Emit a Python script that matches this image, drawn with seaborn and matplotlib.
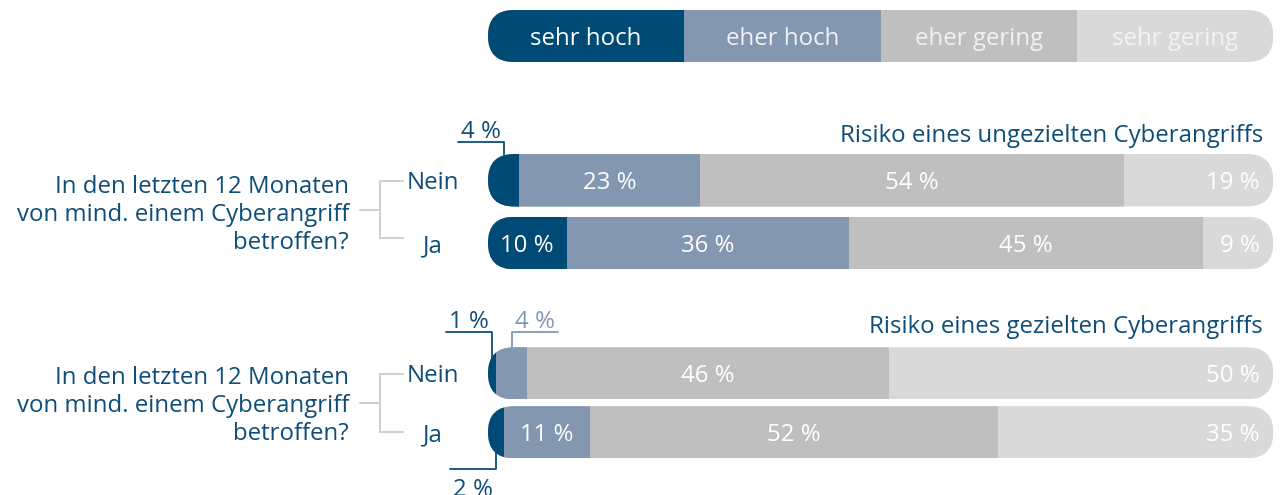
import pandas as pd
import matplotlib
matplotlib.use("Agg")
import matplotlib.pyplot as plt
import matplotlib.transforms as mtrans
from matplotlib.patches import FancyBboxPatch
from matplotlib.lines import Line2D
import seaborn as sns

# data
levels = ["sehr hoch", "eher hoch", "eher gering", "sehr gering"]
colors = ["#004B76", "#8497B0", "#BFBFBF", "#D9D9D9"]
answers = ["Nein", "Ja"]
ungezielt_nein = [4, 23, 54, 19]
ungezielt_ja = [10, 36, 45, 9]
gezielt_nein = [1, 4, 46, 50]
gezielt_ja = [2, 11, 52, 35]
legend_vals = [25, 25, 25, 25]
title_top = "Risiko eines ungezielten Cyberangriffs"
title_bottom = "Risiko eines gezielten Cyberangriffs"
question = "In den letzten 12 Monaten\nvon mind. einem Cyberangriff\nbetroffen?"

TXT = "#0E4D78"
GREY_LINE = "#D0D0D0"
W, H = 1280, 495
FS = 17.3
VA = "center_baseline"

sns.set_theme(style="white")
plt.rcParams['font.family'] = ['Open Sans', 'DejaVu Sans']

fig = plt.figure(figsize=(12.8, 4.95), dpi=100)


def fx(x):
    return x / W


def fy(y):
    return 1 - y / H


def make_axes(top, bottom):
    return fig.add_axes([fx(488), fy(bottom), (1273.3 - 488) / W, (bottom - top) / H])


def stacked(ax, cats, rows, w):
    df = pd.DataFrame(rows, index=cats, columns=levels)
    cum = df.cumsum(axis=1)
    for k in range(3, -1, -1):
        sns.barplot(x=cum[levels[k]].values, y=cats, color=colors[k], width=w,
                    saturation=1, ax=ax, orient="h", linewidth=0)
    ax.set_xlim(0, 100)
    ax.set_ylim(len(cats) - 1 + w / 2, -w / 2)
    ax.axis("off")
    # pill shaped clipping for each row
    dpi = fig.dpi
    pills = []
    for i in range(len(cats)):
        x0, y0 = ax.transData.transform((0, i + w / 2))
        x1, y1 = ax.transData.transform((100, i - w / 2))
        h = (y1 - y0) / dpi
        p = FancyBboxPatch((x0 / dpi, y0 / dpi), (x1 - x0) / dpi, h,
                           boxstyle=f"round,pad=0,rounding_size={h / 2}",
                           transform=fig.dpi_scale_trans)
        pills.append(p)
    for bar in ax.patches:
        i = int(round(bar.get_y() + bar.get_height() / 2))
        bar.set_clip_path(pills[i])
    return df, cum


def bar_labels(ax, df, cum, skip):
    for i, cat in enumerate(df.index):
        for k, lev in enumerate(levels):
            v = df.loc[cat, lev]
            if (i, k) in skip:
                continue
            if k == 3:
                ax.text(98.3, i, f"{v} %", ha="right", va=VA, color="white", fontsize=FS)
            else:
                ax.text(cum.loc[cat, lev] - v / 2, i, f"{v} %", ha="center", va=VA,
                        color="white", fontsize=FS)


def callout(ax, df, cum, i, k, side, line_y, end_y, color, below=False):
    cat, lev = df.index[i], levels[k]
    v = df.loc[cat, lev]
    xmid = ax.transData.transform((cum.loc[cat, lev] - v / 2, 0))[0]
    x2 = xmid - 46 if side == "left" else xmid + 46
    fig.add_artist(Line2D([fx(x2), fx(xmid), fx(xmid)], [fy(line_y), fy(line_y), fy(end_y)],
                          color=color, lw=1.3))
    if below:
        fig.text(fx((x2 + xmid) / 2), fy(line_y + 27), f"{v} %", ha="center", va="baseline",
                 color=color, fontsize=FS)
    else:
        fig.text(fx((x2 + xmid) / 2), fy(line_y - 4), f"{v} %", ha="center", va="baseline",
                 color=color, fontsize=FS)


def side_labels(ax, yc, br_top, br_bot):
    fig.text(fx(349), fy(yc), question, ha="right", va="center", ma="right",
             color=TXT, fontsize=FS, linespacing=1.24)
    blend = mtrans.blended_transform_factory(fig.transFigure, ax.transData)
    for i, a in enumerate(answers):
        ax.text(fx(433), i, a, ha="center", va=VA, color=TXT, fontsize=FS,
                transform=blend)
    fig.add_artist(Line2D([fx(403), fx(380), fx(380), fx(403)],
                          [fy(br_top), fy(br_top), fy(br_bot), fy(br_bot)],
                          color=GREY_LINE, lw=1.5))
    mid = (br_top + br_bot) / 2
    fig.add_artist(Line2D([fx(360), fx(380)], [fy(mid), fy(mid)], color=GREY_LINE, lw=1.5))


# legend pill
ax_leg = make_axes(10, 62)
dleg, cleg = stacked(ax_leg, ["Legende"], [legend_vals], 1.0)
leg_text = ["white", "#F2F2F2", "#F2F2F2", "#F4F4F4"]
for k, lev in enumerate(levels):
    ax_leg.text(cleg.loc["Legende", lev] - 12.5, 0, lev, ha="center", va=VA,
                color=leg_text[k], fontsize=FS)

# upper block
ax1 = make_axes(154, 269.3)
df1, cum1 = stacked(ax1, answers, [ungezielt_nein, ungezielt_ja], 0.836)
bar_labels(ax1, df1, cum1, skip={(0, 0)})
callout(ax1, df1, cum1, 0, 0, "left", 141.7, 155, TXT)
fig.text(fx(1263), fy(142), title_top, ha="right", va="baseline", color=TXT, fontsize=FS)
side_labels(ax1, 215, 180.7, 238.3)

# lower block
ax2 = make_axes(347.3, 458.3)
df2, cum2 = stacked(ax2, answers, [gezielt_nein, gezielt_ja], 0.884)
bar_labels(ax2, df2, cum2, skip={(0, 0), (0, 1), (1, 0)})
callout(ax2, df2, cum2, 0, 0, "left", 332.3, 360, TXT)
callout(ax2, df2, cum2, 0, 1, "right", 332.3, 347.3, "#8497B0")
callout(ax2, df2, cum2, 1, 0, "left", 469.3, 450, TXT, below=True)
fig.text(fx(1263), fy(333), title_bottom, ha="right", va="baseline", color=TXT, fontsize=FS)
side_labels(ax2, 406, 373.5, 431.5)

fig.savefig("out.png", dpi=100)
